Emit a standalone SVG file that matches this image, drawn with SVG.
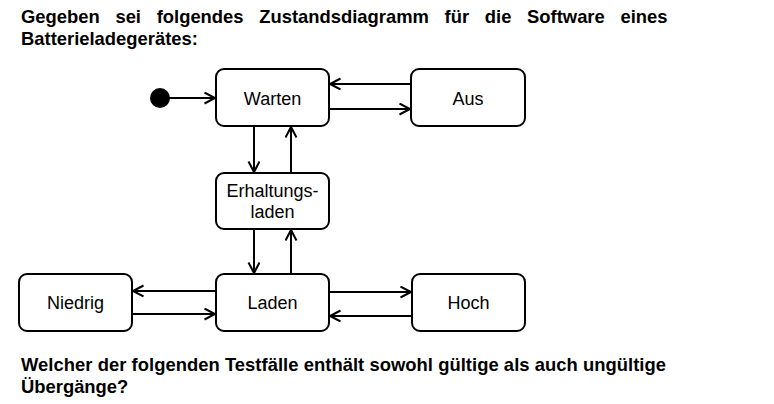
<svg xmlns="http://www.w3.org/2000/svg" width="774" height="404" viewBox="0 0 774 404">
<style>
.q{font-family:"Liberation Sans",Arial,sans-serif;font-weight:bold;font-size:18.4px;fill:#000}
.lbl{font-family:"Liberation Sans",Arial,sans-serif;font-size:18px;fill:#000;text-anchor:middle}
.box{fill:#fff;stroke:#000;stroke-width:2}
.con{stroke:#000;stroke-width:2;fill:none}
</style>
<defs>
<marker id="ah" markerUnits="userSpaceOnUse" markerWidth="14" markerHeight="14" refX="11" refY="6" orient="auto">
<path d="M0.5,0.5 L11,6 L0.5,11.5" fill="none" stroke="#000" stroke-width="2"/>
</marker>
</defs>
<rect width="774" height="404" fill="#fff"/>
<text class="q" x="21" y="23" word-spacing="10.6">Gegeben sei folgendes Zustandsdiagramm für die Software eines</text>
<text class="q" x="21" y="45">Batterieladegerätes:</text>

<g id="connectors">
<line class="con" x1="168" y1="98" x2="215" y2="98" marker-end="url(#ah)"/>
<line class="con" x1="411" y1="84" x2="330" y2="84" marker-end="url(#ah)"/>
<line class="con" x1="329" y1="109" x2="410" y2="109" marker-end="url(#ah)"/>
<line class="con" x1="254" y1="126" x2="254" y2="172" marker-end="url(#ah)"/>
<line class="con" x1="291" y1="173" x2="291" y2="127" marker-end="url(#ah)"/>
<line class="con" x1="254" y1="229" x2="254" y2="273" marker-end="url(#ah)"/>
<line class="con" x1="291" y1="274" x2="291" y2="230" marker-end="url(#ah)"/>
<line class="con" x1="216" y1="291" x2="133" y2="291" marker-end="url(#ah)"/>
<line class="con" x1="132" y1="314" x2="215" y2="314" marker-end="url(#ah)"/>
<line class="con" x1="329" y1="292" x2="411" y2="292" marker-end="url(#ah)"/>
<line class="con" x1="412" y1="316" x2="330" y2="316" marker-end="url(#ah)"/>
</g>

<g id="start"><circle cx="160" cy="98" r="10" fill="#000"/></g>
<g id="warten"><rect class="box" x="216" y="69" width="113" height="57" rx="8"/><text class="lbl" x="272.5" y="105">Warten</text></g>
<g id="aus"><rect class="box" x="411" y="69" width="114" height="57" rx="8"/><text class="lbl" x="468" y="105">Aus</text></g>
<g id="erhaltungsladen"><rect class="box" x="216" y="173" width="113" height="56" rx="8"/><text class="lbl" x="272.5" y="197">Erhaltungs-</text><text class="lbl" x="272.5" y="218">laden</text></g>
<g id="niedrig"><rect class="box" x="19" y="274" width="113" height="57" rx="8"/><text class="lbl" x="75.5" y="309">Niedrig</text></g>
<g id="laden"><rect class="box" x="216" y="274" width="113" height="57" rx="8"/><text class="lbl" x="272.5" y="309">Laden</text></g>
<g id="hoch"><rect class="box" x="412" y="274" width="113" height="57" rx="8"/><text class="lbl" x="468.5" y="309">Hoch</text></g>

<text class="q" x="21" y="371" textLength="645">Welcher der folgenden Testfälle enthält sowohl gültige als auch ungültige</text>
<text class="q" x="21" y="393">Übergänge?</text>
</svg>
